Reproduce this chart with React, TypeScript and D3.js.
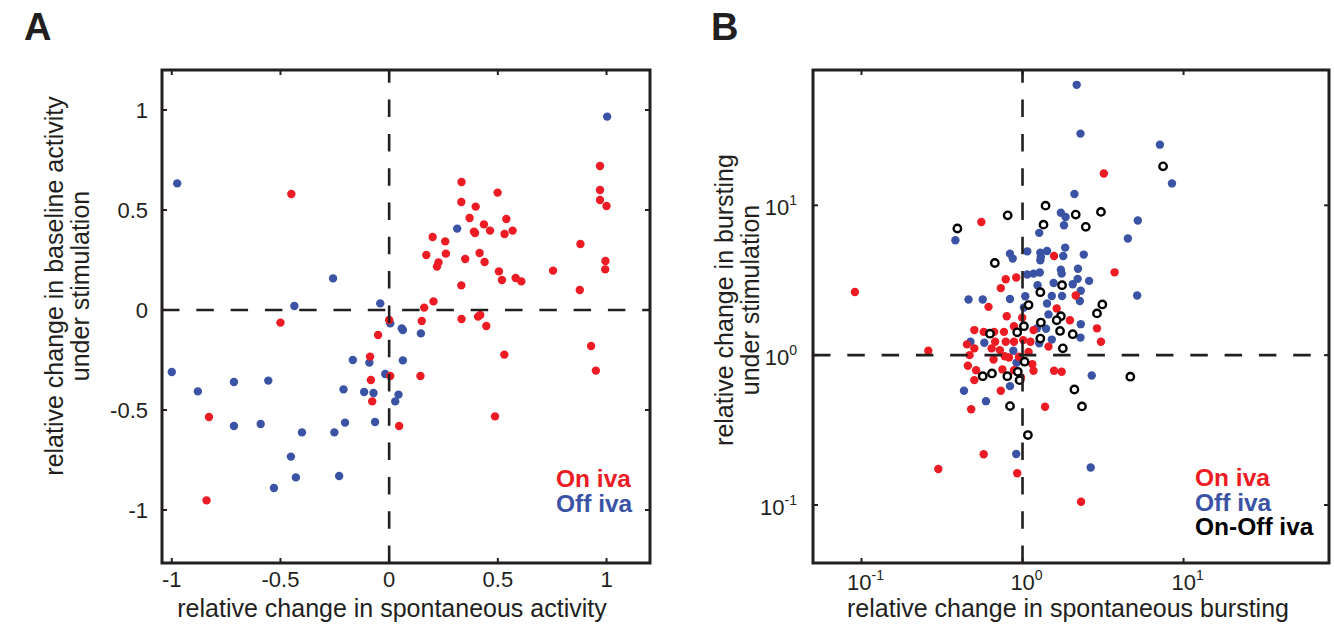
import React, { useEffect, useRef } from "react";
import * as d3 from "d3";

// panel A: relative change (spontaneous, baseline under stimulation)
const ticksA = [-1, -0.5, 0, 0.5, 1];
const onA: [number, number][] = [
  [-0.45, 0.58], [0.0, -0.05], [0.97, 0.72], [0.97, 0.6], [0.97, 0.55], [1.0, 0.52],
  [0.88, 0.33], [0.995, 0.245], [0.994, 0.203], [0.877, 0.1], [0.754, 0.197], [0.333, 0.64],
  [0.332, 0.54], [0.398, 0.517], [0.499, 0.587], [0.37, 0.46], [0.436, 0.428], [0.39, 0.392],
  [0.395, 0.385], [0.464, 0.397], [0.539, 0.455], [0.531, 0.38], [0.568, 0.397], [0.2, 0.365],
  [0.258, 0.343], [0.171, 0.275], [0.261, 0.282], [0.227, 0.238], [0.22, 0.217], [0.35, 0.255],
  [0.416, 0.285], [0.439, 0.24], [0.505, 0.193], [0.519, 0.15], [0.582, 0.16], [0.608, 0.143],
  [0.332, 0.123], [0.204, 0.043], [0.161, 0.012], [0.15, -0.055], [0.333, -0.045], [0.409, -0.033],
  [0.419, -0.025], [0.447, -0.08], [0.53, -0.223], [0.929, -0.18], [0.951, -0.303], [0.144, -0.33],
  [0.487, -0.532], [0.046, -0.58], [-0.5, -0.063], [-0.051, -0.125], [-0.088, -0.233], [0.005, -0.33],
  [-0.084, -0.35], [-0.078, -0.457], [-0.829, -0.535], [-0.84, -0.952],
];
const offA: [number, number][] = [
  [-0.975, 0.633], [-0.258, 0.158], [-0.436, 0.02], [-0.041, 0.033], [1.003, 0.967], [0.313, 0.407],
  [0.146, -0.117], [0.058, -0.092], [0.063, -0.1], [0.063, -0.252], [0.005, -0.067], [0.043, -0.423],
  [0.028, -0.457], [-0.091, -0.263], [-0.167, -0.25], [-1.0, -0.31], [-0.018, -0.32], [-0.714, -0.36],
  [-0.556, -0.353], [-0.88, -0.407], [-0.21, -0.397], [-0.115, -0.41], [-0.072, -0.415], [-0.714, -0.58],
  [-0.591, -0.57], [-0.401, -0.612], [-0.252, -0.612], [-0.203, -0.563], [-0.065, -0.56], [-0.452, -0.733],
  [-0.429, -0.837], [-0.23, -0.83], [-0.53, -0.89],
];

// panel B: relative change in bursting (log-log)
const ticksB = [0.1, 1, 10];
const expB = ["-1", "0", "1"];
const onB: [number, number][] = [
  [0.091, 2.64], [0.555, 7.74], [1.57, 4.59], [0.914, 3.3], [0.787, 3.21], [0.733, 2.8], [0.615, 2.1],
  [1.63, 2.05], [0.798, 1.82], [0.995, 1.78], [3.2, 16.3], [3.73, 3.57], [2.14, 2.5], [1.97, 1.71],
  [2.9, 1.51], [3.07, 1.23], [1.75, 0.774], [2.31, 0.105], [0.885, 1.56], [0.767, 1.43], [0.502, 1.47],
  [0.574, 1.43], [0.667, 1.43], [1.17, 1.47], [1.45, 1.14], [0.26, 1.07], [0.452, 1.18], [0.502, 1.11],
  [0.676, 1.23], [0.643, 1.11], [0.723, 1.08], [0.787, 1.23], [0.885, 1.23], [1.01, 1.26], [1.12, 1.23],
  [0.95, 0.975], [1.09, 1.05], [0.776, 0.984], [0.824, 0.964], [0.469, 1.0], [0.661, 0.935], [1.15, 0.871],
  [1.17, 0.787], [0.458, 0.849], [0.515, 0.794], [0.75, 0.803], [0.885, 0.794], [0.502, 0.681],
  [1.57, 0.787], [0.733, 0.578], [0.48, 0.435], [1.38, 0.453], [0.574, 0.218], [0.3, 0.174],
  [0.927, 0.163], [0.977, 0.71],
];
const offB: [number, number][] = [
  [0.383, 5.85], [1.73, 8.93], [1.85, 8.36], [1.81, 7.36], [1.27, 6.55], [1.84, 5.22], [0.836, 4.76],
  [0.869, 4.41], [1.07, 4.93], [1.29, 4.83], [1.42, 4.95], [1.29, 4.3], [1.3, 4.52], [1.79, 4.59],
  [1.28, 3.56], [1.17, 3.5], [1.07, 3.45], [1.73, 3.72], [1.75, 3.5], [1.56, 3.03], [1.24, 2.93],
  [1.52, 2.48], [1.76, 2.48], [1.42, 2.21], [0.462, 2.35], [0.566, 2.35], [0.836, 2.37], [1.04, 2.47],
  [1.02, 2.08], [2.17, 63.7], [2.29, 30.1], [7.13, 25.4], [8.47, 14.0], [2.1, 11.9], [5.2, 7.91],
  [4.51, 6.0], [2.4, 4.69], [2.21, 3.77], [2.2, 3.23], [2.59, 3.13], [2.05, 2.97], [2.3, 2.69],
  [2.27, 2.3], [5.15, 2.5], [2.3, 1.61], [2.29, 1.31], [2.69, 0.731], [2.65, 0.178], [1.45, 1.87],
  [1.23, 1.51], [1.4, 1.5], [1.27, 1.2], [1.52, 1.27], [0.475, 1.23], [0.579, 1.21], [0.877, 1.07],
  [0.918, 0.889], [0.836, 0.621], [0.433, 0.578], [0.593, 0.493], [0.914, 0.219],
];
const onOffB: [number, number][] = [
  [0.394, 7.0], [0.809, 8.57], [1.39, 9.95], [1.35, 7.43], [0.673, 4.12], [1.76, 2.93], [1.29, 2.63],
  [1.09, 2.16], [7.46, 18.2], [2.14, 8.67], [3.07, 9.04], [2.47, 7.18], [3.13, 2.18], [2.9, 1.9],
  [1.73, 1.82], [1.71, 1.45], [2.05, 1.38], [1.78, 1.11], [4.67, 0.718], [2.1, 0.59], [2.34, 0.455],
  [1.63, 1.71], [1.3, 1.65], [0.628, 1.39], [0.927, 1.42], [1.02, 1.56], [1.29, 1.29], [1.03, 0.904],
  [0.566, 0.724], [0.646, 0.755], [0.805, 0.724], [0.935, 0.774], [0.959, 0.681], [0.836, 0.457],
  [1.08, 0.293],
];

const legendA = ["On iva", "Off iva"];
const legendB = ["On iva", "Off iva", "On-Off iva"];

const RED = "#ed1c24";
const BLUE = "#3a53a4";
const INK = "#231f20";
const FONT = "'Liberation Sans', Arial, Helvetica, sans-serif";

export default function App() {
  const ref = useRef<SVGSVGElement>(null);

  useEffect(() => {
    const svg = d3.select(ref.current);
    svg.selectAll("*").remove();
    svg.attr("font-family", FONT);

    // frame + inner ticks on all four sides, dashed reference lines
    const frame = (x: any, y: any, xt: number[], yt: number[], x0: number, y0: number) => {
      const [l, r] = x.range();
      const [b, t] = y.range();
      const g = svg.append("g");
      g.append("path")
        .attr("d", `M${x(x0)},${b}L${x(x0)},${t}`)
        .attr("stroke", INK).attr("stroke-width", 2.6)
        .attr("stroke-dasharray", "17.5,16.8").attr("fill", "none");
      g.append("path")
        .attr("d", `M${l},${y(y0)}L${r},${y(y0)}`)
        .attr("stroke", INK).attr("stroke-width", 2.6)
        .attr("stroke-dasharray", "17.5,16.8").attr("fill", "none");
      const tk = 5;
      xt.forEach((v) => {
        g.append("line").attr("x1", x(v)).attr("x2", x(v)).attr("y1", b).attr("y2", b - tk);
        g.append("line").attr("x1", x(v)).attr("x2", x(v)).attr("y1", t).attr("y2", t + tk);
      });
      yt.forEach((v) => {
        g.append("line").attr("x1", l).attr("x2", l + tk).attr("y1", y(v)).attr("y2", y(v));
        g.append("line").attr("x1", r).attr("x2", r - tk).attr("y1", y(v)).attr("y2", y(v));
      });
      g.selectAll("line").attr("stroke", INK).attr("stroke-width", 2);
      g.append("rect")
        .attr("x", l).attr("y", t).attr("width", r - l).attr("height", b - t)
        .attr("fill", "none").attr("stroke", INK).attr("stroke-width", 3);
      return g;
    };

    const dots = (data: [number, number][], x: any, y: any, color: string) => {
      svg.append("g").selectAll("circle").data(data).join("circle")
        .attr("cx", (d) => x(d[0])).attr("cy", (d) => y(d[1])).attr("r", 4.2)
        .attr("fill", color);
    };

    // ---------- panel A ----------
    const xA = d3.scaleLinear().domain([-1.045, 1.2]).range([162, 650]);
    const yA = d3.scaleLinear().domain([-1.265, 1.2]).range([563, 70]);

    dots(offA, xA, yA, BLUE);
    dots(onA, xA, yA, RED);
    frame(xA, yA, ticksA, ticksA, 0, 0);

    svg.append("g").selectAll("text").data(ticksA).join("text")
      .attr("x", 148).attr("y", (d) => yA(d) + 8)
      .attr("text-anchor", "end").attr("font-size", 22).attr("fill", INK)
      .text((d) => String(d));
    svg.append("g").selectAll("text").data(ticksA).join("text")
      .attr("x", (d) => xA(d)).attr("y", 587)
      .attr("text-anchor", "middle").attr("font-size", 22).attr("fill", INK)
      .text((d) => String(d));

    svg.append("text").attr("x", 392).attr("y", 617).attr("text-anchor", "middle")
      .attr("font-size", 25).attr("fill", INK).text("relative change in spontaneous activity");
    const ylA = svg.append("text").attr("transform", "translate(0,286) rotate(-90)")
      .attr("text-anchor", "middle").attr("font-size", 25).attr("fill", INK);
    ylA.append("tspan").attr("x", 0).attr("y", 63).text("relative change in baseline activity");
    ylA.append("tspan").attr("x", 0).attr("y", 89).text("under stimulation");

    svg.append("g").selectAll("text").data(legendA).join("text")
      .attr("x", 556).attr("y", (d, i) => 487 + i * 25)
      .attr("font-size", 24.5).attr("font-weight", "bold")
      .attr("fill", (d, i) => (i === 0 ? RED : BLUE))
      .text((d) => d);

    svg.append("text").attr("x", 24).attr("y", 40).attr("font-size", 38)
      .attr("font-weight", "bold").attr("fill", INK).text("A");

    // ---------- panel B ----------
    const xB = d3.scaleLog().domain([0.05, 80]).range([813, 1329]);
    const yB = d3.scaleLog().domain([0.041, 80]).range([563, 70]);

    dots(offB, xB, yB, BLUE);
    dots(onB, xB, yB, RED);
    svg.append("g").selectAll("circle").data(onOffB).join("circle")
      .attr("cx", (d) => xB(d[0])).attr("cy", (d) => yB(d[1])).attr("r", 3.7)
      .attr("fill", "#fff").attr("stroke", "#000").attr("stroke-width", 2.4);
    frame(xB, yB, ticksB, ticksB, 1, 1);

    const pow = (sel: any) => {
      sel.append("tspan").text("10");
      sel.append("tspan").attr("dy", -10).attr("font-size", 14).text((d: any, i: number) => expB[i]);
    };
    svg.append("g").selectAll("text").data(ticksB).join("text")
      .attr("x", 797).attr("y", (d) => yB(d) + 10)
      .attr("text-anchor", "end").attr("font-size", 22).attr("fill", INK)
      .call(pow);
    svg.append("g").selectAll("text").data(ticksB).join("text")
      .attr("x", (d) => xB(d) + 4).attr("y", 590)
      .attr("text-anchor", "middle").attr("font-size", 22).attr("fill", INK)
      .call(pow);

    svg.append("text").attr("x", 1068).attr("y", 617).attr("text-anchor", "middle")
      .attr("font-size", 25).attr("fill", INK).text("relative change in spontaneous bursting");
    const ylB = svg.append("text").attr("transform", "translate(0,300) rotate(-90)")
      .attr("text-anchor", "middle").attr("font-size", 25).attr("fill", INK);
    ylB.append("tspan").attr("x", 0).attr("y", 733).text("relative change in bursting");
    ylB.append("tspan").attr("x", 0).attr("y", 759).text("under stimulation");

    svg.append("g").selectAll("text").data(legendB).join("text")
      .attr("x", 1195).attr("y", (d, i) => 486 + i * 24.5)
      .attr("font-size", 24.5).attr("font-weight", "bold")
      .attr("fill", (d, i) => (i === 0 ? RED : i === 1 ? BLUE : "#000"))
      .text((d) => d);

    svg.append("text").attr("x", 711).attr("y", 40).attr("font-size", 38)
      .attr("font-weight", "bold").attr("fill", INK).text("B");
  }, []);

  return (
    <svg
      ref={ref}
      width={1334}
      height={625}
      style={{ position: "absolute", left: 0, top: 0, background: "#fff" }}
    />
  );
}
